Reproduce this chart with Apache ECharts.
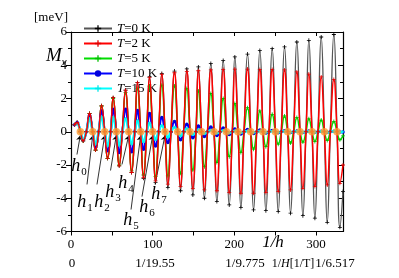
<!DOCTYPE html>
<html><head><meta charset="utf-8">
<script src="https://cdn.jsdelivr.net/npm/echarts@6/dist/echarts.min.js"></script>
<style>html,body{margin:0;padding:0;background:#fff}#c{width:399px;height:278px}</style>
</head><body><div id="c"></div>
<script>
// ---- data ----
const seriesNames = ['T=0 K', 'T=2 K', 'T=5 K', 'T=10 K', 'T=15 K'];
const xStart = 4.3, xEnd = 333;
const xPeak   = [7.5, 22.7, 37.4, 51.6, 66.8, 81.4, 96.1, 111.2, 126.7, 141.8, 155.9, 171.2, 186.3, 200.6, 216.1, 231.2, 246.3, 261.4, 276.5, 291.2, 306.3, 321.8];
const xFall   = [11.4, 26.6, 41.3, 55.5, 70.7, 85.3, 100, 115.1, 130.6, 145.7, 159.8, 175.1, 190.2, 204.5, 220, 235.1, 250.2, 265.3, 280.4, 295.1, 310.2, 325.7];
const xTrough = [14.9, 30.1, 44.8, 59.0, 74.2, 88.8, 103.5, 118.6, 134.1, 149.2, 163.3, 178.6, 193.7, 208.0, 223.5, 238.6, 253.7, 268.8, 283.9, 298.6, 313.7, 329.2];
const xRise   = [18.8, 33.9, 48.6, 62.8, 78.0, 92.6, 107.3, 122.4, 137.9, 153.0, 167.1, 182.4, 197.5, 211.8, 227.3, 242.4, 257.5, 272.6, 287.7, 302.4, 317.5];

const peaksT0   = [0.56, 1.1, 1.56, 2.05, 2.5, 2.95, 3.3, 3.5, 3.65, 3.78, 3.9, 4.1, 4.28, 4.5, 4.67, 4.88, 5.0, 5.1, 5.4, 5.5, 5.7, 5.85];
const troughsT0 = [-0.55, -1.1, -1.6, -2.05, -2.45, -2.8, -3.05, -3.35, -3.55, -3.8, -4.0, -4.2, -4.4, -4.55, -4.7, -4.75, -4.8, -4.9, -5.05, -5.2, -5.45, -5.75];
const peaksT2   = [0.56, 1.1, 1.56, 2.05, 2.5, 2.95, 3.25, 3.45, 3.55, 3.62, 3.67, 3.72, 3.75, 3.77, 3.77, 3.75, 3.75, 3.72, 3.6, 3.47, 3.3, 3.15];
const troughsT2 = [-0.55, -1.1, -1.6, -2.05, -2.45, -2.75, -2.95, -3.15, -3.3, -3.4, -3.5, -3.55, -3.65, -3.7, -3.7, -3.65, -3.6, -3.5, -3.4, -3.3, -3.2, -3.1];
const peaksT5   = [0.56, 1.1, 1.55, 2.0, 2.35, 2.6, 2.75, 2.8, 2.75, 2.6, 2.45, 2.3, 2.0, 1.7, 1.45, 1.25, 1.05, 0.95, 0.85, 0.78, 0.7, 0.62];
const troughsT5 = [-0.55, -1.1, -1.6, -2.0, -2.35, -2.6, -2.7, -2.65, -2.5, -2.3, -2.1, -1.85, -1.5, -1.25, -1.05, -0.9, -0.75, -0.68, -0.62, -0.58, -0.52, -0.48];
const peaksT10   = [0.55, 1.0, 1.25, 1.35, 1.35, 1.28, 1.1, 0.85, 0.62, 0.45, 0.35, 0.28, 0.22, 0.17, 0.13, 0.1, 0.08, 0.06, 0.05, 0.04, 0.03, 0.03];
const troughsT10 = [-0.5, -0.95, -1.15, -1.25, -1.2, -1.05, -0.85, -0.65, -0.48, -0.36, -0.28, -0.22, -0.17, -0.13, -0.1, -0.08, -0.06, -0.05, -0.04, -0.03, -0.03, -0.02];
const peaksT15   = [0.5, 0.8, 0.9, 0.88, 0.8, 0.68, 0.52, 0.38, 0.27, 0.19, 0.13, 0.09, 0.07, 0.05, 0.04, 0.03, 0.03, 0.02, 0.02, 0.02, 0.02, 0.02];
const troughsT15 = [-0.48, -0.75, -0.85, -0.82, -0.75, -0.62, -0.48, -0.35, -0.25, -0.17, -0.12, -0.09, -0.07, -0.05, -0.04, -0.03, -0.03, -0.02, -0.02, -0.02, -0.02, -0.02];
const startVals = [0.42, 0.42, 0.42, 0.42, 0.42];
const endVals   = [-3.6, -2.0, -0.25, -0.01, 0];

const xTicksBottom = [0, 100, 200, 300];
const hLabels = ['0', '1', '2', '3', '4', '5', '6', '7'];
// annotation anchor positions (data units)
const hLabelX = [9.8, 17.1, 38.0, 51.4, 67.3, 73.5, 93.1, 107.8];
const hLabelY = [-2.09, -4.26, -4.26, -3.65, -3.11, -5.33, -4.56, -3.78];
const hArrowX = [7.3, 19.6, 31.8, 48.4, 62.4, 73.5, 86.9, 102.9];
const hArrowY = [-1.37, -3.17, -3.17, -2.33, -1.97, -4.68, -3.9, -3.17];

// ---- build ----
function build(pk, tr, y0, y1) {
  const d = [[xStart, y0]];
  for (let i = 0; i < xPeak.length; i++) {
    d.push([xPeak[i], pk[i]]);
    d.push([xFall[i], 0]);
    d.push([xTrough[i], tr[i]]);
    if (i < xRise.length) d.push([xRise[i], 0]);
  }
  d.push([xEnd, y1]);
  return d;
}
const FONT = '"Liberation Serif", "Times New Roman", serif';
const PLUS = 'path://M4,0H6V4H10V6H6V10H4V6H0V4H4Z';
const peaks = [peaksT0, peaksT2, peaksT5, peaksT10, peaksT15];
const troughs = [troughsT0, troughsT2, troughsT5, troughsT10, troughsT15];
const lineCols = ['#555555', '#ff0000', '#00dd00', '#0000ff', '#00ffff'];
const markCols = ['#000000', '#e00000', '#00c000', '#0000dd', '#00e8e8'];
const widths = [1.3, 1.5, 1.5, 2.2, 2.6];
const symbols = [PLUS, PLUS, PLUS, 'circle', PLUS];
const symSizes = [4, 4, 4, 3.5, 3];
const zOrder = [2, 7, 4, 5, 6];

const series = seriesNames.map((n, k) => ({
  name: n, type: 'line', data: build(peaks[k], troughs[k], startVals[k], endVals[k]),
  smooth: 0.5, symbol: symbols[k], symbolSize: symSizes[k], showSymbol: true,
  lineStyle: { color: lineCols[k], width: widths[k] },
  itemStyle: { color: markCols[k] }, z: zOrder[k]
}));

series.push({
  type: 'scatter', name: 'h', data: xFall.map(x => [x, 0]), symbol: 'circle', symbolSize: 7.5,
  itemStyle: { color: '#ff9a2e' }, z: 10,
  markLine: {
    silent: true, symbol: ['none', 'arrow'], symbolSize: 5, animation: false,
    lineStyle: { color: '#000', width: 0.8, type: 'solid' }, label: { show: false },
    data: hArrowX.map((x, i) => [{ coord: [x, hArrowY[i]] }, { coord: [xFall[i], -0.22] }])
  },
  markPoint: {
    silent: true, symbol: 'rect', symbolSize: 1, animation: false,
    itemStyle: { color: 'rgba(0,0,0,0)' },
    label: {
      show: true, position: 'inside', color: '#000',
      rich: {
        h: { fontFamily: FONT, fontSize: 18, fontStyle: 'italic', color: '#000' },
        s: { fontFamily: FONT, fontSize: 11, color: '#000', padding: [11, 0, 0, 1] }
      }
    },
    data: hLabels.map((s, i) => ({ coord: [hLabelX[i], hLabelY[i]], label: { formatter: '{h|h}{s|' + s + '}' } }))
  }
});

const axisLine = { onZero: false, lineStyle: { color: '#000', width: 1.2 } };
const chart = echarts.init(document.getElementById('c'), null, { renderer: 'canvas' });
chart.setOption({
  animation: false,
  backgroundColor: '#fff',
  grid: { left: 71, right: 56, top: 32, bottom: 46.5, containLabel: false },
  legend: {
    orient: 'vertical', left: 78, top: 17, itemWidth: 28, itemHeight: 8, itemGap: 2,
    data: seriesNames,
    formatter: n => '{i|T}' + n.slice(1),
    textStyle: { fontFamily: FONT, fontSize: 13, color: '#000', lineHeight: 13,
      rich: { i: { fontFamily: FONT, fontSize: 13, fontStyle: 'italic', color: '#000' } } }
  },
  xAxis: [
    { type: 'value', min: 0, max: xEnd, interval: 50, position: 'bottom', axisLine,
      axisTick: { show: true, length: 4, lineStyle: { color: '#000' } },
      splitLine: { show: false },
      axisLabel: { fontFamily: FONT, fontSize: 13, color: '#000', margin: 7, showMaxLabel: false,
        formatter: v => xTicksBottom.indexOf(v) >= 0 ? String(v) : '' } },
    { type: 'value', min: 0, max: xEnd, interval: 50, position: 'top', axisLine,
      axisTick: { show: true, inside: true, length: 4, lineStyle: { color: '#000' } },
      splitLine: { show: false }, axisLabel: { show: false } }
  ],
  yAxis: [
    { type: 'value', min: -6, max: 6, interval: 2, position: 'left', axisLine,
      axisTick: { show: true, length: 5, lineStyle: { color: '#000' } },
      minorTick: { show: true, splitNumber: 2, length: 3, lineStyle: { color: '#000' } },
      splitLine: { show: false }, minorSplitLine: { show: false },
      axisLabel: { fontFamily: FONT, fontSize: 13, color: '#000', margin: 4 } },
    { type: 'value', min: -6, max: 6, interval: 2, position: 'right', axisLine,
      axisTick: { show: true, inside: true, length: 5, lineStyle: { color: '#000' } },
      minorTick: { show: true, splitNumber: 2, length: 3, lineStyle: { color: '#000' } },
      splitLine: { show: false }, axisLabel: { show: false } }
  ],
  graphic: [
    { type: 'text', x: 51, y: 18, style: { text: '[meV]', align: 'center', verticalAlign: 'middle', font: '13px ' + FONT, fill: '#000' } },
    { type: 'text', x: 46, y: 56, style: { text: '{m|M}{v|ν}', align: 'left', verticalAlign: 'middle',
      rich: { m: { font: 'italic 19px ' + FONT, fill: '#000' }, v: { font: 'italic 11px ' + FONT, fill: '#000', padding: [12, 0, 0, 0] } } } },
    { type: 'text', x: 273, y: 243, style: { text: '1/h', align: 'center', verticalAlign: 'middle', font: 'italic 17px ' + FONT, fill: '#000' } },
    { type: 'text', x: 72, y: 264, style: { text: '0', align: 'center', verticalAlign: 'middle', font: '13px ' + FONT, fill: '#000' } },
    { type: 'text', x: 155, y: 264, style: { text: '1/19.55', align: 'center', verticalAlign: 'middle', font: '13px ' + FONT, fill: '#000' } },
    { type: 'text', x: 245, y: 264, style: { text: '1/9.775', align: 'center', verticalAlign: 'middle', font: '13px ' + FONT, fill: '#000' } },
    { type: 'text', x: 293, y: 264, style: { text: '1/{i|H}[1/T]', align: 'center', verticalAlign: 'middle', font: '12px ' + FONT, fill: '#000',
      rich: { i: { font: 'italic 12px ' + FONT, fill: '#000' } } } },
    { type: 'text', x: 335, y: 264, style: { text: '1/6.517', align: 'center', verticalAlign: 'middle', font: '13px ' + FONT, fill: '#000' } }
  ],
  series
});
</script></body></html>
